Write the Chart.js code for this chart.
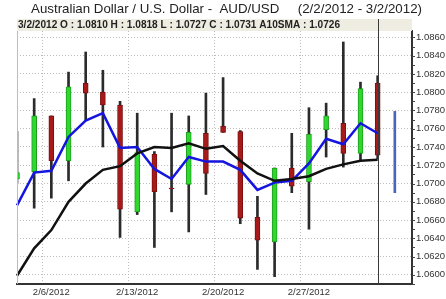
<!DOCTYPE html>
<html><head><meta charset="utf-8">
<script src="https://cdn.jsdelivr.net/npm/chart.js@4.4.0/dist/chart.umd.min.js"></script>
<style>html,body{margin:0;padding:0;background:#fff;}#wrap{width:446px;height:299px;position:relative;}canvas{display:block;}</style>
</head><body><div id="wrap"><canvas id="c" width="446" height="299" style="width:446px;height:299px"></canvas></div>
<script>
const categories = ['2/2/2012','2/3/2012','2/6/2012','2/7/2012','2/8/2012','2/9/2012','2/10/2012','2/13/2012','2/14/2012','2/15/2012','2/16/2012','2/17/2012','2/20/2012','2/21/2012','2/22/2012','2/23/2012','2/24/2012','2/27/2012','2/28/2012','2/29/2012','3/1/2012','3/2/2012','3/5/2012','3/6/2012'];
const openV  = [1.0705,1.0713,1.0774,1.0725,1.0810,1.0800,1.0786,1.0669,1.0732,1.0695,1.0699,1.0755,1.0763,1.0757,1.0663,1.0636,1.0717,1.0702,1.0759,1.0766,1.0733,1.0810];
const highV  = [1.0757,1.0793,1.0774,1.0822,1.0844,1.0824,1.0790,1.0777,1.0735,1.0777,1.0774,1.0799,1.0816,1.0758,1.0686,1.0717,1.0755,1.0783,1.0788,1.0855,1.0811,1.0818];
const lowV   = [1.0700,1.0673,1.0684,1.0703,1.0769,1.0740,1.0641,1.0666,1.0630,1.0669,1.0647,1.0688,1.0756,1.0656,1.0606,1.0598,1.0690,1.0650,1.0729,1.0718,1.0725,1.0727];
const closeV = [1.0712,1.0774,1.0725,1.0806,1.0799,1.0786,1.0672,1.0734,1.0691,1.0694,1.0756,1.0711,1.0756,1.0662,1.0638,1.0717,1.0697,1.0754,1.0774,1.0733,1.0804,1.0731];
const blueLine = [1.0676,1.0712,1.0714,1.0751,1.0769,1.0777,1.0739,1.0740,1.0716,1.0705,1.0729,1.0724,1.0724,1.0715,1.0693,1.0701,1.0703,1.0722,1.0749,1.0743,1.0766,1.0755];
const sma10  = [1.0599,1.0629,1.0649,1.0680,1.0700,1.0715,1.0719,1.0733,1.0740,1.0739,1.0744,1.0738,1.0741,1.0725,1.0711,1.0703,1.0705,1.0708,1.0716,1.0721,1.0725,1.0726];
const nextRange = [1.0690, 1.0779];
const tickLabels = ['2/6/2012','2/13/2012','2/20/2012','2/27/2012'];
const yTickLabels = ['1.0600','1.0620','1.0640','1.0660','1.0680','1.0700','1.0720','1.0740','1.0760','1.0780','1.0800','1.0820','1.0840','1.0860'];
const titleText = 'Australian Dollar / U.S. Dollar -  AUD/USD     (2/2/2012 - 3/2/2012)';

const last = closeV.length - 1;
const headerText = categories[last] + ' O : ' + openV[last].toFixed(4) + ' H : ' + highV[last].toFixed(4) +
  ' L : ' + lowV[last].toFixed(4) + ' C : ' + closeV[last].toFixed(4) + ' A10SMA : ' + sma10[last].toFixed(4);

const wicks = categories.map((c, i) => i < openV.length ? [lowV[i], highV[i]] : null);
const bodies = categories.map((c, i) => i < openV.length ? [openV[i], closeV[i]] : null);
const upColor = i => closeV[i] >= openV[i];
const nextData = categories.map((c, i) => i === openV.length ? nextRange : null);

const FONT = '"Liberation Sans", Arial, sans-serif';

const overlay = {
  id: 'overlay',
  afterDraw(chart) {
    const {ctx, chartArea, scales} = chart;
    const x = scales.x, y = scales.y;
    ctx.save();
    ctx.font = '13.3px ' + FONT;
    ctx.fillStyle = '#222'; ctx.textBaseline = 'middle'; ctx.textAlign = 'center';
    ctx.fillText(titleText, 226.5, 9);
    ctx.fillStyle = '#efede1';
    ctx.fillRect(chartArea.left, 19, chartArea.right - chartArea.left, chartArea.top - 19);
    ctx.strokeStyle = '#bcbcbc'; ctx.lineWidth = 1;
    ctx.beginPath(); ctx.moveTo(chartArea.left + 0.5, chartArea.top); ctx.lineTo(chartArea.left + 0.5, chartArea.bottom); ctx.stroke();
    const cx = Math.round(x.getPixelForValue(last)) + 0.5;
    ctx.strokeStyle = '#3a3a3a';
    ctx.beginPath(); ctx.moveTo(cx, 19); ctx.lineTo(cx, chartArea.bottom); ctx.stroke();
    ctx.font = 'bold 10.1px ' + FONT;
    ctx.fillStyle = '#222'; ctx.textBaseline = 'middle'; ctx.textAlign = 'left';
    ctx.fillText(headerText, chartArea.left + 1, 25);
    ctx.strokeStyle = '#444';
    y.ticks.forEach(t => {
      const py = Math.round(y.getPixelForValue(t.value)) + 0.5;
      ctx.beginPath(); ctx.moveTo(chartArea.right, py); ctx.lineTo(chartArea.right + 3, py); ctx.stroke();
    });
    ctx.restore();
  }
};

new Chart(document.getElementById('c'), {
  type: 'bar',
  data: {
    labels: categories,
    datasets: [
      { type: 'line', label: 'A10SMA', data: sma10, borderColor: '#111', borderWidth: 2.5, pointRadius: 0, tension: 0, order: 0 },
      { type: 'line', label: 'Avg', data: blueLine, borderColor: '#1515e0', borderWidth: 2.5, pointRadius: 0, tension: 0, order: 1 },
      { label: 'Body', data: bodies, grouped: false, barThickness: 5, borderSkipped: false, borderWidth: 1,
        backgroundColor: categories.map((c, i) => i < openV.length && upColor(i) ? '#2fd82f' : '#a81a1a'),
        borderColor: categories.map((c, i) => i < openV.length && upColor(i) ? '#1e9e1e' : '#7c0f0f'), order: 2 },
      { label: 'Next', data: nextData, grouped: false, barThickness: 2, backgroundColor: '#4a66b8', order: 2 },
      { label: 'Wick', data: wicks, grouped: false, barThickness: 2, backgroundColor: '#2b2b2b', order: 3 }
    ]
  },
  options: {
    responsive: false, animation: false, maintainAspectRatio: false, devicePixelRatio: 1,
    layout: { padding: { left: 17, right: 0, top: 31, bottom: 0 } },
    plugins: { legend: { display: false }, tooltip: { enabled: false }, title: { display: false } },
    scales: {
      x: {
        type: 'category', offset: false,
        grid: { drawTicks: false, color: ctx => (ctx.index !== undefined && tickLabels.includes(categories[ctx.index])) ? '#bdbdbd' : 'rgba(0,0,0,0)' },
        border: { display: true, color: '#333', width: 2, dash: [1, 2] },
        ticks: { autoSkip: false, maxRotation: 0, padding: 3, color: '#333', font: { family: FONT, size: 9.5 },
          callback: (v, i) => tickLabels.includes(categories[i]) ? categories[i] : '' },
        afterFit: s => { s.height = 15; }
      },
      y: {
        type: 'linear', position: 'right', min: 1.0590, max: 1.0867,
        grid: { drawTicks: false, color: ctx => (ctx.tick && yTickLabels.includes(ctx.tick.value.toFixed(4))) ? '#bdbdbd' : 'rgba(0,0,0,0)' },
        border: { display: true, color: '#333', width: 2, dash: [1, 2] },
        ticks: { stepSize: 0.001, autoSkip: false, includeBounds: false, padding: 4, color: '#333', font: { family: FONT, size: 9.5 },
          callback: v => yTickLabels.includes(Number(v).toFixed(4)) ? Number(v).toFixed(4) : '' },
        afterFit: s => { s.width = 34; }
      }
    }
  },
  plugins: [overlay]
});
</script></body></html>
